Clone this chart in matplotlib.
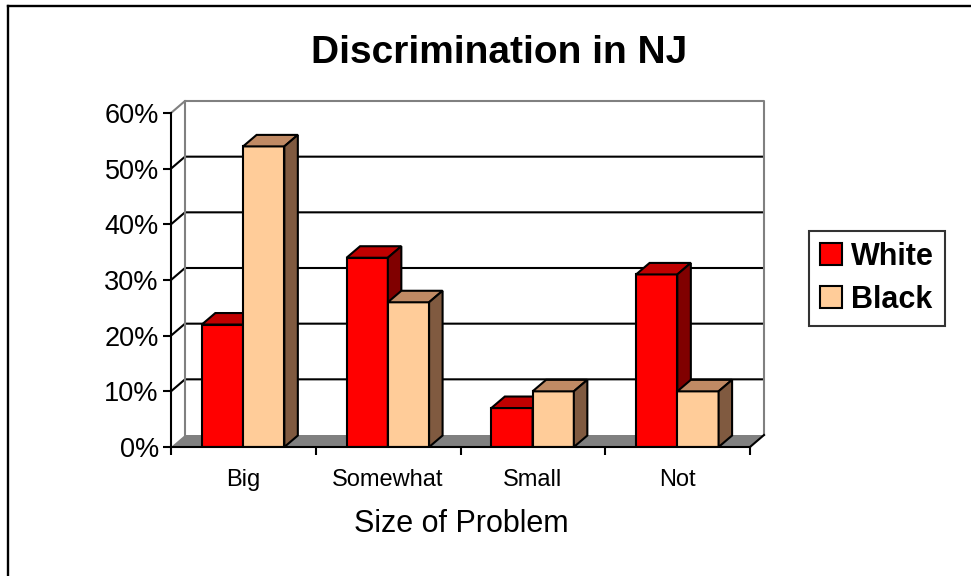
import matplotlib
matplotlib.use('Agg')
import matplotlib.pyplot as plt
from matplotlib.patches import Polygon, Patch
from matplotlib.lines import Line2D
from matplotlib.ticker import PercentFormatter

# ---- data ----
categories = ['Big', 'Somewhat', 'Small', 'Not']
white_vals = [22, 34, 7, 31]
black_vals = [54, 26, 10, 10]
series_names = ['White', 'Black']
yticks = [0, 10, 20, 30, 40, 50, 60]
title = 'Discrimination in NJ'
xlabel = 'Size of Problem'

# ---- style ----
plt.rcParams['font.family'] = ['Liberation Sans', 'DejaVu Sans']
W, H = 971, 576
fig = plt.figure(figsize=(W / 100, H / 100), dpi=100)
fig.patch.set_facecolor('white')

# plot area (front plane)
px_left, px_right, px_bottom, px_top = 171, 750, 447, 113
ax = fig.add_axes([px_left / W, (H - px_bottom) / H,
                   (px_right - px_left) / W, (px_bottom - px_top) / H])
ymax = yticks[-1]
ncat = len(categories)
ax.set_xlim(0, ncat)
ax.set_ylim(0, ymax)
ax.set_facecolor('none')

# depth offsets (pixels -> data)
xscale = (px_right - px_left) / ncat
yscale = (px_bottom - px_top) / ymax
ddx, ddy = 14 / xscale, 12 / yscale        # wall depth
bdx, bdy = 13.5 / xscale, 11.5 / yscale    # bar depth

gray = '#808080'
lw = 1.5

# back wall
wall = Polygon([(ddx, ddy), (ncat + ddx, ddy), (ncat + ddx, ymax + ddy), (ddx, ymax + ddy)],
               closed=True, facecolor='white', edgecolor='none', zorder=0, clip_on=False)
ax.add_patch(wall)
# floor
floor = Polygon([(0, 0), (ncat, 0), (ncat + ddx, ddy), (ddx, ddy)],
                closed=True, facecolor=gray, edgecolor='none', zorder=1, clip_on=False)
ax.add_patch(floor)
# gridlines
for v in yticks[1:-1]:
    ax.plot([0, ddx, ncat + ddx], [v, v + ddy, v + ddy], color='black', lw=lw,
            zorder=1.5, clip_on=False, solid_capstyle='butt')
# wall edges (gray)
ax.plot([0, ddx, ncat + ddx, ncat + ddx], [ymax, ymax + ddy, ymax + ddy, ddy],
        color=gray, lw=lw, zorder=1.5, clip_on=False)
ax.plot([ddx, ddx], [ddy, ymax + ddy], color=gray, lw=lw, zorder=1.5, clip_on=False)
# floor right edge
ax.plot([ncat, ncat + ddx], [0, ddy], color='black', lw=lw, zorder=1.6, clip_on=False)

# bars
bw = 0.285
off_w = 0.213
face_w, top_w, side_w = '#FF0000', '#C00000', '#800000'
face_b, top_b, side_b = '#FFCC99', '#C08A64', '#805A40'

x_w = [i + off_w for i in range(ncat)]
x_b = [i + off_w + bw for i in range(ncat)]
bars_w = ax.bar(x_w, white_vals, width=bw, align='edge', color=face_w,
                edgecolor='black', linewidth=lw)
bars_b = ax.bar(x_b, black_vals, width=bw, align='edge', color=face_b,
                edgecolor='black', linewidth=lw)


def add_box(x0, v, top_c, side_c, z):
    x1 = x0 + bw
    top = Polygon([(x0, v), (x1, v), (x1 + bdx, v + bdy), (x0 + bdx, v + bdy)],
                  closed=True, facecolor=top_c, edgecolor='black', lw=lw, zorder=z,
                  joinstyle='miter')
    side = Polygon([(x1, 0), (x1 + bdx, bdy), (x1 + bdx, v + bdy), (x1, v)],
                   closed=True, facecolor=side_c, edgecolor='black', lw=lw, zorder=z,
                   joinstyle='miter')
    ax.add_patch(top)
    ax.add_patch(side)


for i in range(ncat):
    z = 10 + 4 * i
    bars_w[i].set_zorder(z)
    add_box(x_w[i], white_vals[i], top_w, side_w, z + 1)
    bars_b[i].set_zorder(z + 2)
    add_box(x_b[i], black_vals[i], top_b, side_b, z + 3)

# axes / ticks
for s in ['top', 'right']:
    ax.spines[s].set_visible(False)
for s in ['left', 'bottom']:
    ax.spines[s].set_color('black')
    ax.spines[s].set_linewidth(lw)
    ax.spines[s].set_zorder(50)

ax.set_yticks(yticks)
ax.yaxis.set_major_formatter(PercentFormatter(xmax=100, decimals=0))
ax.tick_params(axis='y', length=5.8, width=lw, direction='out', labelsize=19.5, pad=3,
               colors='black')
ax.set_xticks(range(ncat + 1))
ax.set_xticklabels([])
ax.tick_params(axis='x', which='major', length=5.8, width=lw, direction='out')
ax.set_xticks([i + 0.5 for i in range(ncat)], minor=True)
ax.set_xticklabels(categories, minor=True)
ax.tick_params(axis='x', which='minor', length=0, labelsize=17, pad=16)

# title and axis label
fig.text(499 / W, 1 - 53 / H, title, ha='center', va='center', fontsize=28,
         fontweight='bold')
fig.text(461 / W, 1 - 524 / H, xlabel, ha='center', va='center', fontsize=22)

# legend
handles = [Patch(facecolor=face_w, edgecolor='black', lw=lw),
           Patch(facecolor=face_b, edgecolor='black', lw=lw)]
leg = fig.legend(handles, series_names, loc='upper left',
                 bbox_to_anchor=(809 / W, 1 - 231 / H), borderaxespad=0,
                 prop={'weight': 'bold', 'size': 22}, fancybox=False, shadow=False,
                 frameon=True, handlelength=0.72, handleheight=0.72,
                 handletextpad=0.3, labelspacing=0.42, borderpad=0.36)
leg.get_frame().set_edgecolor('black')
leg.get_frame().set_linewidth(lw)

# figure border (left and top visible)
fig.add_artist(Line2D([7.5 / W, 7.5 / W], [0, 1 - 6 / H], transform=fig.transFigure,
                      color='black', lw=1.7))
fig.add_artist(Line2D([7.5 / W, 1], [1 - 6 / H, 1 - 6 / H], transform=fig.transFigure,
                      color='black', lw=1.7))

fig.savefig('out.png', dpi=100, facecolor='white')
